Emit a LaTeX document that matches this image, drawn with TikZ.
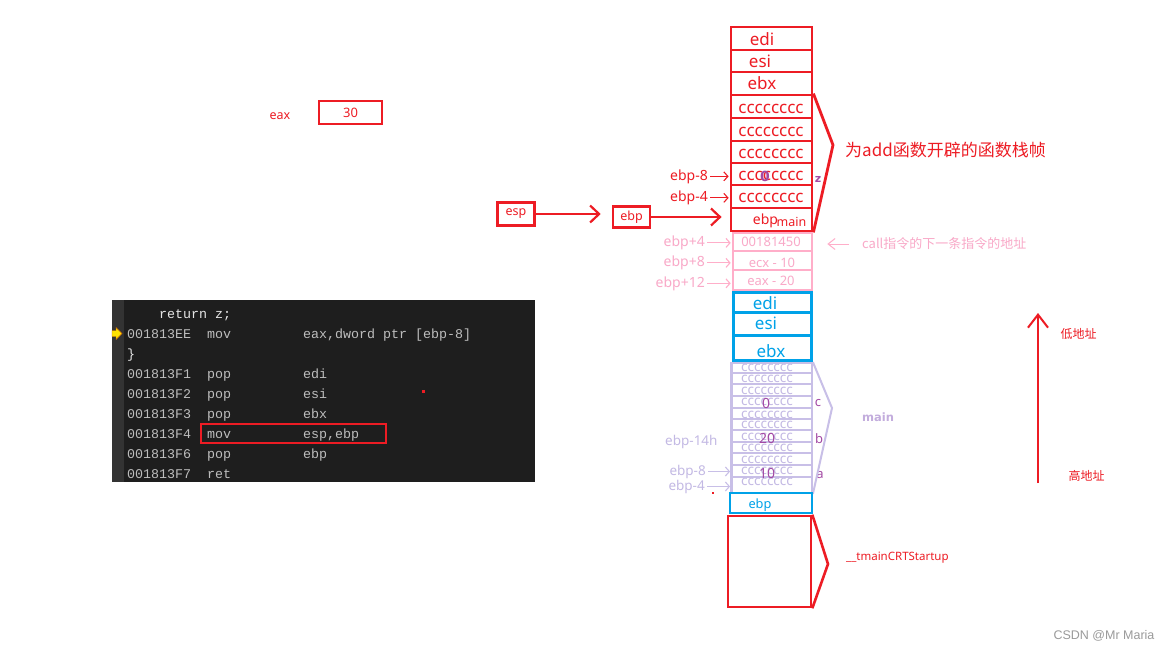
\documentclass[tikz,border=0pt]{standalone}
\usepackage{fontspec}
\setmainfont{Noto Sans}
\newfontfamily\cjk{Noto Sans CJK SC}
\newfontfamily\codefont{Liberation Mono}
\newfontfamily\wmfont{Liberation Sans}
\newfontfamily\bfam{DejaVu Sans}
\usetikzlibrary{arrows.meta}
\definecolor{pred}{HTML}{ED1C24}
\definecolor{ppink}{HTML}{FFAEC9}
\definecolor{ppinktxt}{HTML}{F9A9C8}
\definecolor{pblue}{HTML}{00A2E8}
\definecolor{plav}{HTML}{C8BFE7}
\definecolor{plavtxt}{HTML}{C3B9E4}
\definecolor{ppurple}{HTML}{A349A4}
\definecolor{codebg}{HTML}{1E1E1E}
\definecolor{gutter}{HTML}{333333}
\definecolor{codegrey}{HTML}{BDBDBD}
\definecolor{codewhite}{HTML}{E6E6E6}
\definecolor{wmgrey}{HTML}{9A9A9A}
\tikzset{
  txt/.style={inner sep=0pt, anchor=base},
  redcell/.style={draw=pred, line width=2.8pt, inner sep=0pt, minimum width=81pt},
  pinkcell/.style={draw=ppink, line width=2.6pt, inner sep=0pt, minimum width=79pt},
  bluecell/.style={draw=pblue, line width=3pt, inner sep=0pt, minimum width=78pt},
  lavcell/.style={draw=plav, line width=1.8pt, inner sep=0pt, minimum width=80pt},
  redbox/.style={draw=pred, line width=2.6pt, inner sep=0pt},
  smallarrow/.style={-{Straight Barb[length=4pt,width=9pt]}, line width=1.1pt, shorten >=1pt},
  bigarrow/.style={-{Straight Barb[length=9pt,width=17pt]}, line width=2.2pt, draw=pred},
  codetxt/.style={inner sep=0pt, anchor=base west, font=\codefont\fontsize{13.33}{15}\selectfont, text=codegrey},
}
\begin{document}
\begin{tikzpicture}[x=1pt,y=-1pt]
\useasboundingbox (0,0) rectangle (1170,651);
\fill[white] (0,0) rectangle (1170,651);

% ---------- left: eax, esp, ebp ----------
\node[txt, font=\fontsize{12.5}{14}\selectfont, text=pred] (eaxlbl) at (280,119) {eax};
\node[redbox, minimum width=63pt, minimum height=23pt, font=\fontsize{13}{15}\selectfont, text=pred] (eaxbox) at (350.5,112.5) {30};
\node[redbox, minimum width=37pt, minimum height=23pt, font=\fontsize{12.5}{14}\selectfont, text=pred] (espbox) at (516,214) {esp};
\node[redbox, minimum width=37pt, minimum height=21pt, font=\fontsize{12.5}{14}\selectfont, text=pred] (ebpbox) at (631.5,217) {ebp};

% ---------- code block ----------
\fill[codebg] (112,300) rectangle (535,482);
\fill[gutter] (112,300) rectangle (124,482);
\fill[yellow!85!orange, draw=orange!80!black, line width=0.4pt] (112,330.5) -- (116,330.5) -- (116,327.5) -- (122,333.5) -- (116,339.5) -- (116,336.5) -- (112,336.5) -- cycle;
\node[codetxt, text=codewhite] (c0) at (159,318) {return z;};
\node[codetxt] (c1a) at (127,338) {001813EE};
\node[codetxt] (c1b) at (207,338) {mov};
\node[codetxt] (c1c) at (303,338) {eax,dword ptr [ebp-8]};
\node[codetxt, text=codewhite] (c2) at (127,358) {\}};
\node[codetxt] (c3a) at (127,378) {001813F1};
\node[codetxt] (c3b) at (207,378) {pop};
\node[codetxt] (c3c) at (303,378) {edi};
\node[codetxt] (c4a) at (127,398) {001813F2};
\node[codetxt] (c4b) at (207,398) {pop};
\node[codetxt] (c4c) at (303,398) {esi};
\node[codetxt] (c5a) at (127,418) {001813F3};
\node[codetxt] (c5b) at (207,418) {pop};
\node[codetxt] (c5c) at (303,418) {ebx};
\node[codetxt] (c6a) at (127,438) {001813F4};
\node[codetxt] (c6b) at (207,438) {mov};
\node[codetxt] (c6c) at (303,438) {esp,ebp};
\node[codetxt] (c7a) at (127,458) {001813F6};
\node[codetxt] (c7b) at (207,458) {pop};
\node[codetxt] (c7c) at (303,458) {ebp};
\node[codetxt] (c8a) at (127,478) {001813F7};
\node[codetxt] (c8b) at (207,478) {ret};
\node[redbox, line width=2.4pt, minimum width=185pt, minimum height=19pt] (movbox) at (293.5,433.5) {};
\fill[pred] (421.5,389.5) rectangle (424.5,392.5);

% ---------- red stack frame (add) ----------
\foreach \i/\a/\b in {1/27/50,2/50/72,3/72/95,4/95/118,5/118/141,6/141/163,7/163/185,8/185/208,9/208/231}
  \node[redcell, minimum height={(\b-\a)*1pt}] (r\i) at (771.5,{(\a+\b)/2}) {};
\tikzset{redtxt/.style={txt, text=pred, font=\fontsize{17}{19}\selectfont}}
\node[redtxt] (t1) at (762,45) {edi};
\node[redtxt] (t2) at (760,67) {esi};
\node[redtxt] (t3) at (762,89.5) {ebx};
\node[redtxt] (t4) at (771,113.5) {cccccccc};
\node[redtxt] (t5) at (771,136) {cccccccc};
\node[redtxt] (t6) at (771,158.5) {cccccccc};
\node[redtxt] (t7) at (771,180.5) {cccccccc};
\node[redtxt] (t8) at (771,202.5) {cccccccc};
\node[txt, text=pred, font=\fontsize{14}{16}\selectfont] (t9a) at (765.5,224) {ebp};
\node[txt, text=pred, font=\fontsize{12.5}{14}\selectfont] (t9b) at (791.5,226) {main};
\node[txt, text=ppurple, font=\bfam\bfseries\fontsize{14}{16}\selectfont] (zero1) at (765,181.5) {0};
\node[txt, text=ppurple, font=\bfam\bfseries\fontsize{11}{13}\selectfont] (zlbl) at (818,182) {z};
\coordinate (apexA) at (833,145);
\draw[pred, line width=2.8pt, line join=miter] (r4.north east) -- (apexA) -- (r9.south east);
\node[inner sep=0pt, anchor=west, text=pred, font=\cjk\fontsize{17}{19}\selectfont] (title) at (845,150) {为add函数开辟的函数栈帧};
\tikzset{redlbl/.style={txt, anchor=base east, text=pred, font=\fontsize{14}{16}\selectfont}}
\node[redlbl] (lm8) at (708,180) {ebp-8};
\node[redlbl] (lm4) at (708,201.5) {ebp-4};
\draw[smallarrow, draw=pred] ([xshift=2pt]lm8.east) -- (lm8.east -| r7.west);
\draw[smallarrow, draw=pred] ([xshift=2pt]lm4.east) -- (lm4.east -| r8.west);
\draw[bigarrow, shorten >=11pt] (espbox.east) -- (espbox.east -| ebpbox.west);
\draw[bigarrow, shorten >=8pt] (ebpbox.east) -- (ebpbox.east -| r9.west);

% ---------- pink: return address and args ----------
\foreach \i/\a/\b in {1/233/251,2/251/270,3/270/290}
  \node[pinkcell, minimum height={(\b-\a)*1pt}] (p\i) at (772.5,{(\a+\b)/2}) {};
\tikzset{pinktxt/.style={txt, text=ppinktxt, font=\fontsize{13}{15}\selectfont}}
\node[pinktxt] (pt1) at (771,246) {00181450};
\node[pinktxt] (pt2) at (772,267) {ecx - 10};
\node[pinktxt] (pt3) at (771,285.5) {eax - 20};
\tikzset{pinklbl/.style={txt, anchor=base east, text=ppinktxt, font=\fontsize{14}{16}\selectfont}}
\node[pinklbl] (lp4) at (705,246.5) {ebp+4};
\node[pinklbl] (lp8) at (705,266.5) {ebp+8};
\node[pinklbl] (lp12) at (705,287) {ebp+12};
\draw[smallarrow, draw=ppink] ([xshift=2pt]lp4.east) -- (lp4.east -| p1.west);
\draw[smallarrow, draw=ppink] ([xshift=2pt]lp8.east) -- (lp8.east -| p2.west);
\draw[smallarrow, draw=ppink] ([xshift=2pt]lp12.east) -- (lp12.east -| p3.west);
\node[inner sep=0pt, anchor=west, text=ppinktxt, font=\cjk\fontsize{13}{15}\selectfont] (calltxt) at (862,244) {call指令的下一条指令的地址};
\draw[-{Straight Barb[length=7pt,width=11pt]}, draw=ppink, line width=1pt, shorten >=14pt] ([xshift=-13pt]calltxt.west) -- (calltxt.west -| p1.east);

% ---------- blue: main's saved registers ----------
\foreach \i/\a/\b in {1/292/312,2/312/335,3/335/360}
  \node[bluecell, minimum height={(\b-\a)*1pt}] (b\i) at (772,{(\a+\b)/2}) {};
\tikzset{bluetxt/.style={txt, text=pblue, font=\fontsize{17}{19}\selectfont}}
\node[bluetxt] (bt1) at (765,309.5) {edi};
\node[bluetxt] (bt2) at (766,329) {esi};
\node[bluetxt] (bt3) at (771,357.5) {ebx};

% ---------- lavender: main's frame ----------
\foreach \i/\a/\b in {1/363/373,2/373/384,3/384/396,4/396/408,5/408/419,6/419/430,7/430/442,8/442/453,9/453/465,10/465/477,11/477/493}
  \node[lavcell, minimum height={(\b-\a)*1pt}] (v\i) at (772,{(\a+\b)/2}) {};
\draw[plav, line width=3pt] (v1.north west) -- (v11.south west);
\tikzset{lavtxt/.style={txt, text=plavtxt, font=\fontsize{13.5}{15}\selectfont}}
\foreach \i/\y in {1/371.5,2/382.5,3/394.5,4/405.5,5/418,6/428.5,7/440.5,8/451.5,9/463.5,10/474.5,11/485.5}
  \node[lavtxt] (vt\i) at (767,\y) {cccccccc};
\tikzset{purptxt/.style={txt, text=ppurple, font=\fontsize{14}{16}\selectfont}}
\node[purptxt] (n0) at (766,408) {0};
\node[purptxt] (n20) at (767,443) {20};
\node[purptxt] (n10) at (767,478) {10};
\tikzset{purplbl/.style={txt, text=ppurple, font=\fontsize{13}{15}\selectfont}}
\node[purplbl] (lc) at (818,406.5) {c};
\node[purplbl] (lb) at (819,443) {b};
\node[purplbl] (la) at (820,478) {a};
\coordinate (apexB) at (832,408);
\draw[plav, line width=2pt, line join=miter] (v1.north east) -- (apexB) -- (v11.south east);
\node[txt, text=plav!85!ppurple, font=\bfam\bfseries\fontsize{11.5}{14}\selectfont] (mainlbl) at (878,421) {main};
\tikzset{lavlbl/.style={txt, text=plavtxt, font=\fontsize{13.5}{15}\selectfont}}
\node[lavlbl, anchor=base west] (l14) at (665,445) {ebp-14h};
\node[lavlbl, anchor=base east] (lv8) at (706,475) {ebp-8};
\node[lavlbl, anchor=base east] (lv4) at (705,490) {ebp-4};
\draw[smallarrow, draw=plav] ([xshift=2pt]lv8.east) -- (lv8.east -| v10.west);
\draw[smallarrow, draw=plav] ([xshift=2pt]lv4.east) -- (lv4.east -| v11.west);
\fill[pred] (712,492) rectangle (713.5,493.5);

% ---------- main's ebp and __tmainCRTStartup ----------
\node[draw=pblue, line width=2.6pt, inner sep=0pt, minimum width=82pt, minimum height=20pt] (mebp) at (771,503) {};
\node[txt, text=pblue, font=\fontsize{12.8}{14}\selectfont] (mebpt) at (760,508) {ebp};
\node[redbox, minimum width=83pt, minimum height=91pt] (crt) at (769.5,561.5) {};
\coordinate (apexC) at (828,564);
\draw[pred, line width=2.6pt, line join=miter] (crt.north east) -- (apexC) -- (crt.south east);
\node[inner sep=0pt, anchor=west, text=pred, font=\fontsize{11.5}{13}\selectfont] (crtlbl) at (846,558) {\_\_tmainCRTStartup};

% ---------- address direction ----------
\coordinate (hi) at (1038,483);
\coordinate (lo) at (1038,313);
\draw[-{Straight Barb[length=13pt,width=20pt]}, draw=pred, line width=2pt] (hi) -- (lo);
\node[inner sep=0pt, text=pred, font=\cjk\fontsize{12}{14}\selectfont] (lowaddr) at (1078.5,334) {低地址};
\node[inner sep=0pt, text=pred, font=\cjk\fontsize{12}{14}\selectfont] (highaddr) at (1086.5,476) {高地址};

% ---------- watermark ----------
\node[inner sep=0pt, text=wmgrey, font=\wmfont\fontsize{12.5}{14}\selectfont] (wm) at (1104,636) {CSDN @Mr Maria};
\end{tikzpicture}
\end{document}
